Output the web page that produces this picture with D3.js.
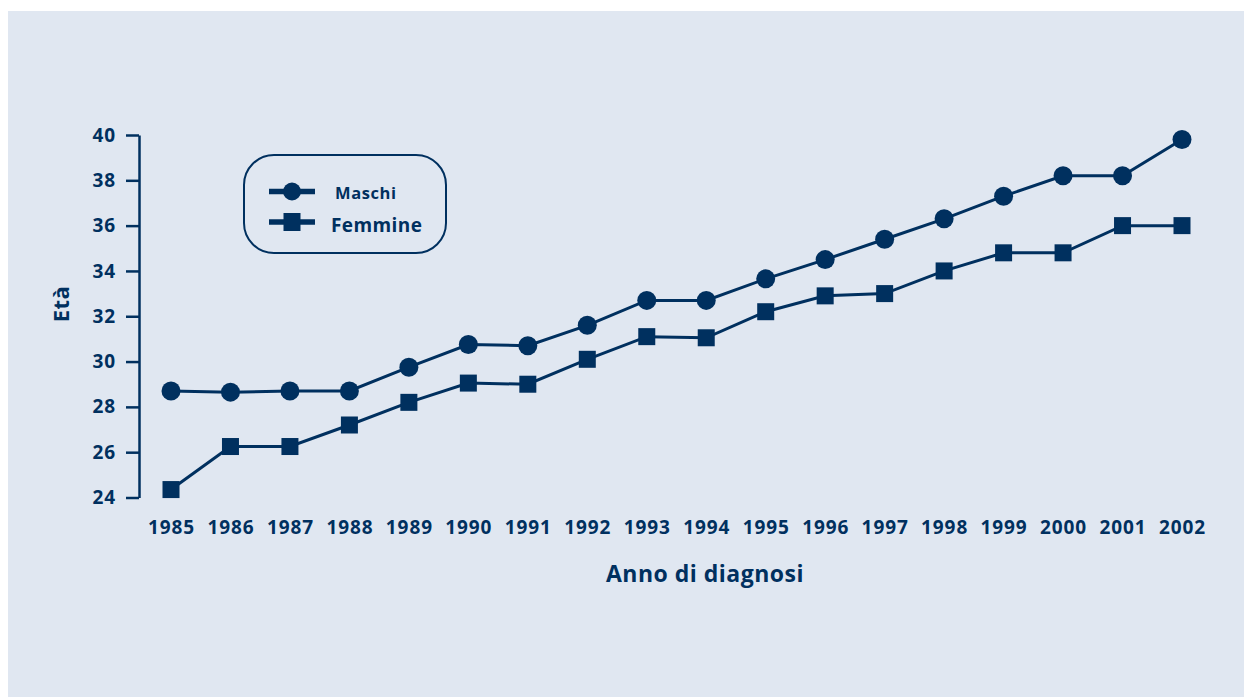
<!DOCTYPE html>
<html>
<head>
<meta charset="utf-8">
<script src="https://cdn.jsdelivr.net/npm/d3@7"></script>
<style>
  html, body { margin: 0; padding: 0; background: #ffffff; }
  svg { display: block; }
  text { font-family: "Open Sans", "Noto Sans", sans-serif; font-weight: 700; fill: #00305f; }
</style>
</head>
<body>
<svg id="chart" width="1245" height="697"></svg>
<script>
// Età media alla diagnosi, per anno e sesso
const years = [1985, 1986, 1987, 1988, 1989, 1990, 1991, 1992, 1993, 1994,
               1995, 1996, 1997, 1998, 1999, 2000, 2001, 2002];
const maschi = [28.7, 28.65, 28.7, 28.7, 29.75, 30.75, 30.7, 31.6, 32.7, 32.7,
                33.65, 34.5, 35.4, 36.3, 37.3, 38.2, 38.2, 39.8];
const femmine = [24.35, 26.25, 26.25, 27.2, 28.2, 29.05, 29.0, 30.1, 31.1, 31.05,
                 32.2, 32.9, 33.0, 34.0, 34.8, 34.8, 36.0, 36.0];
const yTicks = [24, 26, 28, 30, 32, 34, 36, 38, 40];
const seriesNames = ["Maschi", "Femmine"];

const navy = "#00305f";
const svg = d3.select("#chart");

// pannello di sfondo
svg.append("rect")
  .attr("x", 8).attr("y", 11)
  .attr("width", 1236).attr("height", 686)
  .attr("fill", "#e0e7f1");

const x = d3.scalePoint().domain(years).range([171, 1182]);
const y = d3.scaleLinear().domain([24, 40]).range([497.5, 135]);

// asse Y
const yAxis = svg.append("g")
  .attr("transform", "translate(139,0)")
  .call(d3.axisLeft(y).tickValues(yTicks).tickSize(13).tickSizeOuter(0).tickPadding(10));
yAxis.select(".domain").attr("stroke", navy).attr("stroke-width", 2.5);
yAxis.selectAll(".tick line").attr("stroke", navy).attr("stroke-width", 2.5);
yAxis.selectAll(".tick text")
  .attr("font-size", 19).attr("letter-spacing", 0.9).attr("fill", navy)
  .attr("font-family", '"Open Sans", sans-serif').attr("font-weight", 700);

// asse X (solo etichette)
const xAxis = svg.append("g")
  .attr("transform", "translate(0,513)")
  .call(d3.axisBottom(x).tickSize(0).tickPadding(8));
xAxis.select(".domain").remove();
xAxis.selectAll(".tick text")
  .attr("font-size", 19).attr("letter-spacing", 0.9).attr("fill", navy)
  .attr("font-family", '"Open Sans", sans-serif').attr("font-weight", 700);

// titoli degli assi
svg.append("text")
  .attr("x", 705).attr("y", 582)
  .attr("text-anchor", "middle")
  .attr("font-size", 23).attr("letter-spacing", 0.5)
  .text("Anno di diagnosi");

svg.append("text")
  .attr("transform", "translate(69,304) rotate(-90)")
  .attr("text-anchor", "middle")
  .attr("font-size", 22).attr("letter-spacing", 0.5)
  .text("Età");

// linee
const line = d3.line()
  .x((d, i) => x(years[i]))
  .y(d => y(d));

svg.append("path").datum(maschi)
  .attr("d", line).attr("fill", "none")
  .attr("stroke", navy).attr("stroke-width", 3);
svg.append("path").datum(femmine)
  .attr("d", line).attr("fill", "none")
  .attr("stroke", navy).attr("stroke-width", 3);

// marcatori
svg.append("g").selectAll("circle")
  .data(maschi).join("circle")
  .attr("cx", (d, i) => x(years[i]))
  .attr("cy", d => y(d))
  .attr("r", 9.5)
  .attr("fill", navy);

const sq = 17;
svg.append("g").selectAll("rect")
  .data(femmine).join("rect")
  .attr("x", (d, i) => x(years[i]) - sq / 2)
  .attr("y", d => y(d) - sq / 2)
  .attr("width", sq).attr("height", sq)
  .attr("fill", navy);

// legenda
const legend = svg.append("g");
legend.append("rect")
  .attr("x", 244).attr("y", 155)
  .attr("width", 202).attr("height", 98)
  .attr("rx", 30).attr("ry", 30)
  .attr("fill", "none")
  .attr("stroke", navy).attr("stroke-width", 2);

const legendRows = [
  { name: seriesNames[0], cy: 191.5, tx: 335, ty: 199, size: 16.5, ls: 0.6 },
  { name: seriesNames[1], cy: 222, tx: 331, ty: 232, size: 19, ls: 0.4 }
];
legendRows.forEach((r, i) => {
  legend.append("line")
    .attr("x1", 269).attr("x2", 315)
    .attr("y1", r.cy).attr("y2", r.cy)
    .attr("stroke", navy).attr("stroke-width", 5.5);
  if (i === 0) {
    legend.append("circle").attr("cx", 292).attr("cy", r.cy).attr("r", 9).attr("fill", navy);
  } else {
    legend.append("rect").attr("x", 292 - 8.5).attr("y", r.cy - 9)
      .attr("width", 17).attr("height", 18).attr("fill", navy);
  }
  legend.append("text")
    .attr("x", r.tx).attr("y", r.ty)
    .attr("font-size", r.size).attr("letter-spacing", r.ls)
    .text(r.name);
});
</script>
</body>
</html>
